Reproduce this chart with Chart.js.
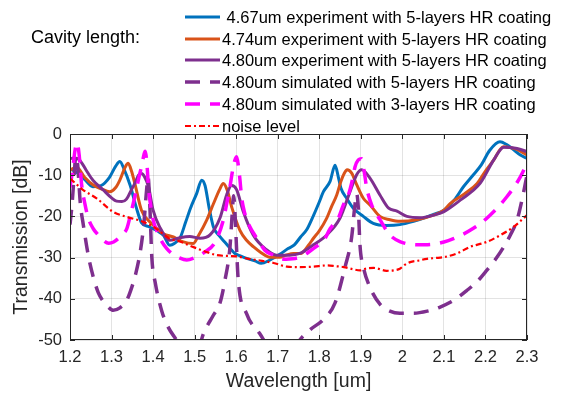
<!DOCTYPE html>
<html>
<head>
<meta charset="utf-8">
<script src="https://cdn.jsdelivr.net/npm/chart.js@4.4.1/dist/chart.umd.min.js"></script>
<style>
  html, body { margin: 0; padding: 0; background: #ffffff; }
  #wrap { width: 561px; height: 394px; }
</style>
</head>
<body>
<div id="wrap"><canvas id="c" width="561" height="394"></canvas></div>
<script>
// ---------- DATA ----------
const xTickVals = [1.2, 1.3, 1.4, 1.5, 1.6, 1.7, 1.8, 1.9, 2.0, 2.1, 2.2, 2.3];
const xTickLabels = ['1.2', '1.3', '1.4', '1.5', '1.6', '1.7', '1.8', '1.9', '2', '2.1', '2.2', '2.3'];
const yTickVals = [0, -10, -20, -30, -40, -50];
const yTickLabels = ['0', '-10', '-20', '-30', '-40', '-50'];

const seriesLabels = [
  ' 4.67um experiment with 5-layers HR coating',
  '4.74um experiment with 5-layers HR coating',
  '4.80um experiment with 5-layers HR coating',
  '4.80um simulated with 5-layers HR coating',
  '4.80um simulated with 3-layers HR coating',
  'noise level'
];
const legendTitle = 'Cavity length:';

// 4.67um experiment
const exp467Wl = [1.200, 1.215, 1.235, 1.255, 1.275, 1.295, 1.310, 1.320, 1.330, 1.345, 1.360, 1.372, 1.390, 1.410, 1.425, 1.440, 1.452, 1.465, 1.478, 1.490, 1.505, 1.517, 1.525, 1.535, 1.545, 1.560, 1.575, 1.597, 1.610, 1.625, 1.645, 1.660, 1.681, 1.705, 1.725, 1.740, 1.755, 1.770, 1.786, 1.800, 1.810, 1.826, 1.838, 1.846, 1.852, 1.866, 1.882, 1.906, 1.930, 1.962, 1.994, 2.027, 2.055, 2.075, 2.100, 2.125, 2.147, 2.170, 2.190, 2.210, 2.235, 2.250, 2.265, 2.284, 2.300];
const exp467Db = [-8.5, -9.2, -11, -12.8, -12.5, -10.5, -7.8, -6.7, -8.5, -12.5, -18, -21.5, -22.5, -23.5, -24.6, -27, -26.5, -25.2, -21.5, -18, -14.4, -11.2, -12.5, -18, -22.5, -24.8, -26.5, -29, -29.6, -30.2, -30.8, -31.4, -30.6, -29.2, -27.8, -26.9, -25, -23.2, -19.8, -16.5, -14, -11.5, -7.6, -10.5, -13.1, -15.6, -18, -20, -21.7, -22.2, -22, -21.2, -20.3, -19.5, -18.5, -16, -12.8, -10, -7.5, -4, -1.9, -2.5, -3.6, -5.1, -5.9];

// 4.74um experiment
const exp474Wl = [1.200, 1.216, 1.235, 1.256, 1.275, 1.296, 1.310, 1.320, 1.333, 1.340, 1.348, 1.356, 1.372, 1.392, 1.410, 1.425, 1.449, 1.473, 1.496, 1.510, 1.529, 1.545, 1.560, 1.569, 1.578, 1.590, 1.609, 1.625, 1.642, 1.660, 1.681, 1.705, 1.720, 1.738, 1.755, 1.774, 1.786, 1.800, 1.818, 1.830, 1.842, 1.852, 1.860, 1.867, 1.878, 1.890, 1.906, 1.922, 1.946, 1.970, 1.994, 2.035, 2.075, 2.100, 2.115, 2.150, 2.180, 2.200, 2.220, 2.235, 2.244, 2.268, 2.285, 2.300];
const exp474Db = [-8.7, -8.1, -10.5, -12.4, -13.3, -14, -13, -11.2, -8, -7.1, -9, -12, -18.5, -21.3, -23, -24.2, -25, -26.2, -26.6, -24.5, -20.9, -17, -13.5, -12, -13.5, -18, -23.4, -25.8, -27.4, -28.8, -29.9, -29.9, -29.4, -29, -29, -27, -25.3, -23.5, -20.4, -17.5, -14.8, -11.5, -9.6, -8.7, -9.5, -12.3, -15.6, -17.2, -20, -20.8, -21.2, -20.8, -19.7, -18.5, -16.9, -14.5, -12, -9, -6.3, -3.8, -3.1, -3.5, -4.2, -5.1];

// 4.80um experiment
const exp480Wl = [1.200, 1.210, 1.223, 1.239, 1.255, 1.280, 1.300, 1.312, 1.325, 1.336, 1.348, 1.356, 1.365, 1.372, 1.380, 1.389, 1.400, 1.416, 1.440, 1.464, 1.488, 1.513, 1.537, 1.561, 1.577, 1.589, 1.601, 1.617, 1.641, 1.673, 1.697, 1.729, 1.753, 1.786, 1.818, 1.850, 1.874, 1.890, 1.902, 1.922, 1.946, 1.967, 1.987, 2.011, 2.043, 2.075, 2.099, 2.140, 2.187, 2.220, 2.244, 2.276, 2.300];
const exp480Db = [-6, -5.8, -6.3, -8.8, -11.2, -13.6, -15.5, -16.3, -16.4, -15.8, -13.5, -12, -10, -9.6, -10.5, -12.8, -18.5, -22.6, -25.8, -25.2, -24.9, -25.3, -24.5, -20.4, -14.8, -12.5, -13.5, -18.8, -24.5, -28.1, -29.4, -29.4, -29, -26.9, -24.5, -20.4, -14, -9.9, -8.7, -10.7, -14.8, -18, -18.7, -20, -20.3, -19.7, -18.9, -16, -12, -6.3, -3.2, -3.5, -4.3];

// 4.80um simulated, 5-layers
const sim5Wl = [1.200, 1.205, 1.210, 1.214, 1.218, 1.225, 1.232, 1.245, 1.256, 1.268, 1.280, 1.292, 1.304, 1.320, 1.336, 1.346, 1.358, 1.370, 1.378, 1.384, 1.388, 1.392, 1.397, 1.405, 1.421, 1.437, 1.453, 1.470, 1.490, 1.510, 1.521, 1.545, 1.561, 1.573, 1.585, 1.590, 1.594, 1.598, 1.601, 1.605, 1.625, 1.657, 1.680, 1.710, 1.740, 1.753, 1.778, 1.810, 1.838, 1.862, 1.878, 1.885, 1.890, 1.894, 1.898, 1.906, 1.922, 1.946, 1.970, 1.994, 2.027, 2.060, 2.091, 2.125, 2.155, 2.180, 2.203, 2.225, 2.244, 2.260, 2.276, 2.290, 2.300];
const sim5Db = [-22, -17, -10, -5.5, -7, -17, -22, -30, -34.7, -38.5, -40.6, -42, -42.8, -42.2, -40.5, -38, -34, -28, -21.5, -14, -10.5, -17, -30, -36, -43, -47, -49.5, -52, -54, -52, -48.5, -44, -41, -35.5, -27.5, -20, -15, -21, -28, -35.5, -43.6, -48.5, -52, -54, -52, -50, -47.5, -45, -41, -32.3, -25, -18, -14.5, -18, -27, -32.3, -37.2, -41.3, -43, -43.5, -43.5, -43, -42, -40.3, -38, -35.8, -33.1, -30.3, -27.4, -24.5, -20.9, -15, -10];

// 4.80um simulated, 3-layers
const sim3Wl = [1.200, 1.206, 1.212, 1.217, 1.222, 1.228, 1.236, 1.244, 1.256, 1.268, 1.280, 1.293, 1.305, 1.317, 1.327, 1.337, 1.347, 1.357, 1.366, 1.373, 1.378, 1.381, 1.385, 1.389, 1.395, 1.401, 1.411, 1.421, 1.433, 1.445, 1.462, 1.481, 1.500, 1.525, 1.549, 1.569, 1.578, 1.585, 1.592, 1.597, 1.601, 1.605, 1.609, 1.613, 1.620, 1.629, 1.653, 1.669, 1.689, 1.705, 1.720, 1.735, 1.753, 1.770, 1.790, 1.810, 1.826, 1.846, 1.858, 1.870, 1.880, 1.886, 1.894, 1.902, 1.908, 1.914, 1.926, 1.946, 1.970, 1.994, 2.035, 2.070, 2.100, 2.123, 2.147, 2.171, 2.191, 2.211, 2.231, 2.251, 2.268, 2.284, 2.300];
const sim3Db = [-13, -9, -4, -2.2, -5, -12.3, -17, -20.4, -23, -24.5, -25.8, -26.5, -26.2, -25.3, -24.3, -22.9, -19, -14.8, -10.5, -7.5, -5, -4.2, -7, -13.1, -18, -21.2, -24, -26.1, -27.8, -29, -30, -30.6, -30, -28.6, -26.3, -20.9, -16.5, -12.8, -8.5, -6.3, -5.5, -7.5, -11, -15.3, -19, -21.7, -25.8, -28.2, -29.4, -30.2, -30.4, -30.3, -29.9, -29, -27.5, -26, -23, -20.4, -17.2, -14.8, -11, -8, -6.3, -6, -9, -13, -17.2, -20.8, -24.5, -26.1, -26.9, -26.8, -26.2, -25.4, -24.3, -22.9, -21.5, -19.7, -17.7, -15.3, -13, -10.4, -7.1];

// noise level
const noiseWl = [1.200, 1.209, 1.232, 1.264, 1.304, 1.336, 1.376, 1.408, 1.440, 1.464, 1.496, 1.525, 1.553, 1.580, 1.601, 1.630, 1.657, 1.690, 1.722, 1.753, 1.785, 1.818, 1.840, 1.859, 1.880, 1.898, 1.915, 1.931, 1.962, 1.980, 1.994, 2.005, 2.019, 2.040, 2.059, 2.080, 2.099, 2.131, 2.163, 2.203, 2.235, 2.267, 2.300];
const noiseDb = [-10.8, -11.6, -13.6, -15.6, -18.9, -20.1, -21.3, -23, -25.4, -26.1, -27.4, -28.5, -29.4, -29.6, -29.7, -30.3, -30.7, -31.3, -32.2, -32.3, -32.2, -31.9, -32.1, -32.3, -32.8, -33.1, -32.6, -32.5, -33.2, -33.1, -32.7, -31.8, -31.1, -30.7, -30.3, -30.1, -29.9, -29, -27.4, -26.2, -24.6, -22.6, -19.7];

// ---------- BUILD ----------
function pts(xs, ys) { return xs.map((x, i) => ({ x: x, y: ys[i] })); }

const FONT = '"Liberation Sans", Arial, Helvetica, sans-serif';
const AXIS_COLOR = '#262626';

const styles = [
  { color: '#0072BD', width: 3, dash: [] },
  { color: '#D95319', width: 3, dash: [] },
  { color: '#7E2F8E', width: 3, dash: [] },
  { color: '#7E2F8E', width: 3.5, dash: [15, 10] },
  { color: '#FF00FF', width: 3.5, dash: [15, 10] },
  { color: '#FF0000', width: 2.2, dash: [6, 3, 2, 3] }
];
const seriesData = [
  pts(exp467Wl, exp467Db),
  pts(exp474Wl, exp474Db),
  pts(exp480Wl, exp480Db),
  pts(sim5Wl, sim5Db),
  pts(sim3Wl, sim3Db),
  pts(noiseWl, noiseDb)
];

const datasets = seriesData.map((d, i) => ({
  label: seriesLabels[i],
  data: d,
  borderColor: styles[i].color,
  backgroundColor: styles[i].color,
  borderWidth: styles[i].width,
  borderDash: styles[i].dash,
  pointRadius: 0,
  fill: false,
  cubicInterpolationMode: 'monotone',
  clip: 0,
  order: seriesData.length - i
}));

const boxPlugin = {
  id: 'boxTicks',
  afterDatasetsDraw(chart) {
    const ctx = chart.ctx, a = chart.chartArea;
    const xs = chart.scales.x, ys = chart.scales.y;
    ctx.save();
    ctx.strokeStyle = AXIS_COLOR;
    ctx.lineWidth = 1;
    ctx.setLineDash([]);
    ctx.strokeRect(Math.round(a.left) + 0.5, Math.round(a.top) + 0.5,
                   Math.round(a.right - a.left) - 1, Math.round(a.bottom - a.top) - 1);
    const L = 5;
    ctx.beginPath();
    xTickVals.forEach(v => {
      const px = Math.round(xs.getPixelForValue(v)) + 0.5;
      ctx.moveTo(px, a.bottom); ctx.lineTo(px, a.bottom - L);
      ctx.moveTo(px, a.top); ctx.lineTo(px, a.top + L);
    });
    yTickVals.forEach(v => {
      const py = Math.round(ys.getPixelForValue(v)) + 0.5;
      ctx.moveTo(a.left, py); ctx.lineTo(a.left + L, py);
      ctx.moveTo(a.right, py); ctx.lineTo(a.right - L, py);
    });
    ctx.stroke();
    ctx.restore();
  }
};

const legendPlugin = {
  id: 'customLegend',
  afterDraw(chart) {
    const ctx = chart.ctx;
    ctx.save();
    ctx.fillStyle = '#000000';
    ctx.textBaseline = 'middle';
    ctx.textAlign = 'left';
    ctx.font = '18px ' + FONT;
    ctx.fillText(legendTitle, 31, 38);
    ctx.font = '16.5px ' + FONT;
    const x0 = 185, x1 = 220, tx = 222, y0 = 17, dy = 21.7;
    chart.data.datasets.forEach((ds, i) => {
      const y = Math.round(y0 + i * dy);
      ctx.beginPath();
      ctx.strokeStyle = ds.borderColor;
      ctx.lineWidth = ds.borderWidth;
      ctx.setLineDash(ds.borderDash || []);
      ctx.moveTo(x0, y); ctx.lineTo(x1, y);
      ctx.stroke();
      ctx.setLineDash([]);
      ctx.fillStyle = '#000000';
      ctx.fillText(ds.label, tx, y + 1);
    });
    ctx.restore();
  }
};

new Chart(document.getElementById('c'), {
  type: 'line',
  data: { datasets: datasets },
  plugins: [boxPlugin, legendPlugin],
  options: {
    responsive: false,
    animation: false,
    devicePixelRatio: 1,
    layout: { padding: { top: 134, right: 34, left: 0, bottom: 0 } },
    plugins: { legend: { display: false }, tooltip: { enabled: false } },
    scales: {
      x: {
        type: 'linear', min: 1.2, max: 2.3,
        afterBuildTicks: s => { s.ticks = xTickVals.map(v => ({ value: v })); },
        afterFit: s => { s.height = 54; },
        grid: { color: 'rgba(38,38,38,0.13)', drawTicks: false, lineWidth: 1 },
        border: { display: false },
        ticks: {
          autoSkip: false, maxRotation: 0, padding: 8,
          color: AXIS_COLOR, font: { family: FONT, size: 16.5 },
          callback: (v, i) => xTickLabels[i]
        },
        title: { display: true, text: 'Wavelength [um]', color: AXIS_COLOR,
                 font: { family: FONT, size: 19.5 }, padding: { top: 0, bottom: 1 } }
      },
      y: {
        type: 'linear', min: -50, max: 0,
        afterBuildTicks: s => { s.ticks = yTickVals.map(v => ({ value: v })); },
        afterFit: s => { s.width = 70; },
        grid: { color: 'rgba(38,38,38,0.13)', drawTicks: false, lineWidth: 1 },
        border: { display: false },
        ticks: {
          autoSkip: false, padding: 8,
          color: AXIS_COLOR, font: { family: FONT, size: 16.5 },
          callback: (v, i) => yTickLabels[i]
        },
        title: { display: true, text: 'Transmission [dB]', color: AXIS_COLOR,
                 font: { family: FONT, size: 19.5 }, padding: { top: 10, bottom: 0 } }
      }
    }
  }
});
</script>
</body>
</html>
